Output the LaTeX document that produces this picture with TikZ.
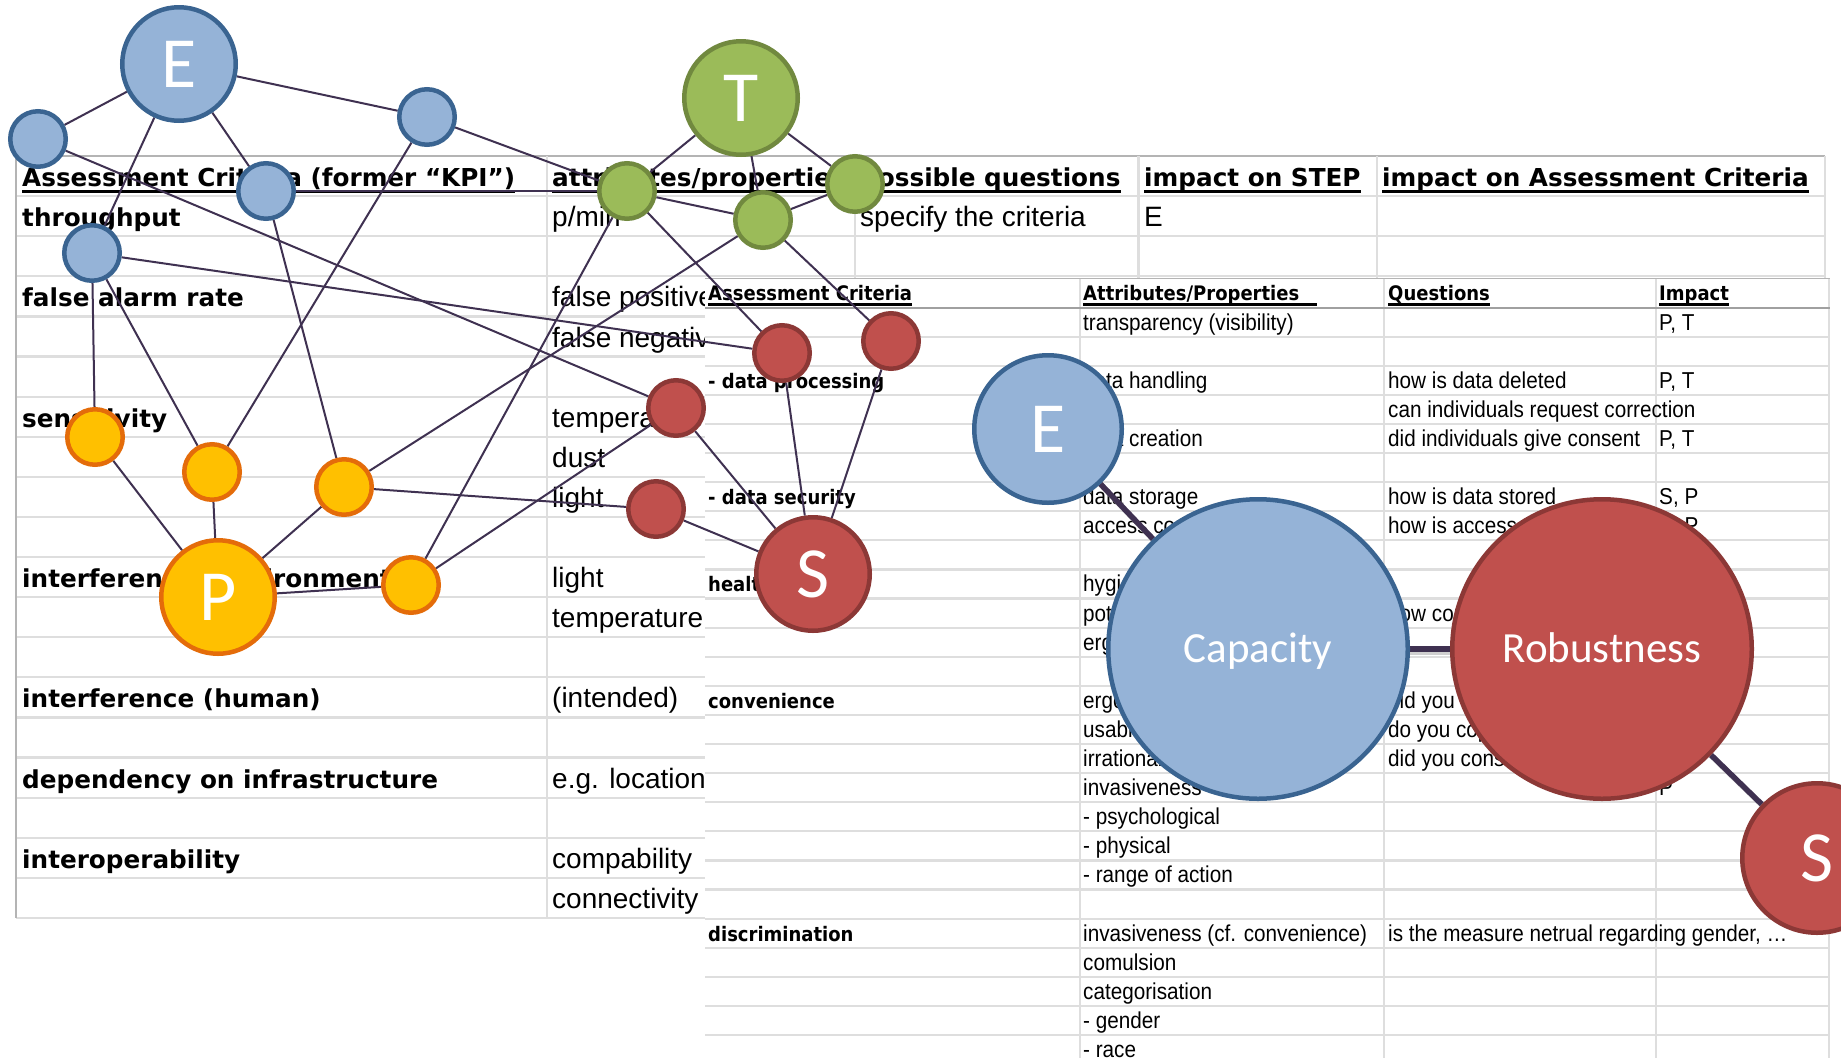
\documentclass[tikz,border=0pt]{standalone}
\usepackage{fontspec}
\newfontfamily\verd{DejaVu Sans}
\newfontfamily\verdn[FakeStretch=0.9]{DejaVu Sans}
\newfontfamily\arl{Liberation Sans}
\newfontfamily\arln[FakeStretch=0.9]{Liberation Sans}
\newfontfamily\calf{Carlito}
\usetikzlibrary{calc}
\definecolor{blueF}{HTML}{95B3D7}
\definecolor{blueD}{HTML}{3A6491}
\definecolor{greenF}{HTML}{9BBB59}
\definecolor{greenD}{HTML}{71893F}
\definecolor{redF}{HTML}{C0504D}
\definecolor{redD}{HTML}{8C3836}
\definecolor{yelF}{HTML}{FFC000}
\definecolor{yelD}{HTML}{E46C0A}
\definecolor{edgeC}{HTML}{3F3151}
\definecolor{gridC}{HTML}{DEDEDE}
\definecolor{gridD}{HTML}{B4B4B4}
\definecolor{hdrL}{HTML}{A0A0A0}
\pgfdeclarelayer{tbl}\pgfdeclarelayer{edg}\pgfsetlayers{tbl,edg,main}
\tikzset{
 nd/.style={circle,inner sep=0pt,line width=4.5pt,minimum size=#1},
 blueN/.style={nd=#1,fill=blueF,draw=blueD},
 greenN/.style={nd=#1,fill=greenF,draw=greenD},
 redN/.style={nd=#1,fill=redF,draw=redD},
 yelN/.style={nd=#1,fill=yelF,draw=yelD},
 lbl/.style={text=white,font=\calf\fontsize{72}{80}\selectfont,text height=46pt,text depth=0pt},
 lblM/.style={text=white,font=\calf\fontsize{43}{50}\selectfont,text height=27.7pt,text depth=0pt},
 conn/.style={draw=edgeC,line width=2pt},
 fat/.style={draw=edgeC,line width=5.5pt},
 fatsh/.style={draw=black!30,line width=5.5pt,opacity=0.6},
 lb/.style={anchor=base west,inner sep=0pt,font=\verd\bfseries\fontsize{24.7}{30}\selectfont},
 lr/.style={anchor=base west,inner sep=0pt,font=\arl\fontsize{28}{32}\selectfont},
 rb/.style={anchor=base west,inner sep=0pt,font=\verdn\bfseries\fontsize{20}{24}\selectfont},
 rr/.style={anchor=base west,inner sep=0pt,font=\arln\fontsize{23}{27}\selectfont},
 gl/.style={draw=gridC,line width=2.2pt},
 ulL/.style={draw=black,line width=3.5pt},
 ulR/.style={draw=black,line width=2.5pt},
}
\begin{document}
\begin{tikzpicture}[x=1pt,y=-1pt]
\useasboundingbox (0,0) rectangle (1841,1058);
\begin{pgfonlayer}{tbl}
\fill[white] (0,0) rectangle (1841,1058);
% ---------- left (background) table ----------
\foreach \k in {1,...,19} {\draw[gl] (16,{156+40.1*\k}) -- (1825,{156+40.1*\k});}
\draw[draw=gridD,line width=2pt] (16,156) -- (1825,156);
\draw[draw=gridD,line width=2pt] (16,156) -- (16,918);
\draw[gl] (547,156) -- (547,918);
\draw[gl] (855,156) -- (855,278);
\draw[gl] (1138.5,156) -- (1138.5,278);
\draw[gl] (1377,156) -- (1377,278);
\draw[gl] (1825,156) -- (1825,278);
% headers
\node[lb] (h1) at (22,186.6) {Assessment Criteria (former “KPI”)};
\node[lb] (h2) at (552,186.6) {attributes/properties};
\node[lb] (h3) at (860,186.6) {possible questions};
\node[lb] (h4) at (1144,186.6) {impact on STEP};
\node[lb] (h5) at (1382,186.6) {impact on Assessment Criteria};
\foreach \h in {h1,h2,h3,h4,h5} {\draw[ulL] ($(\h.base west)+(0,5)$) -- ($(\h.base east)+(0,5)$);}
% rows
\node[lb] (l1a) at (22,226.7) {throughput};
\node[lr] (l1b) at (552,226.7) {p/min};
\node[lr] (l1c) at (860,226.7) {specify the criteria};
\node[lr] (l1d) at (1144,226.7) {E};
\node[lb] (l3a) at (22,306.9) {false alarm rate};
\node[lr] (l3b) at (552,306.9) {false positives};
\node[lr] (l4b) at (552,347) {false negatives};
\node[lb] (l6a) at (22,427.2) {sensitivity};
\node[lr] (l6b) at (552,427.2) {temperature};
\node[lr] (l7b) at (552,467.3) {dust};
\node[lr] (l8b) at (552,507.4) {light};
\node[lb] (l10a) at (22,587.6) {interference (environment)};
\node[lr] (l10b) at (552,587.6) {light};
\node[lr] (l11b) at (552,627.7) {temperature};
\node[lb] (l13a) at (22,707.9) {interference (human)};
\node[lr] (l13b) at (552,707.9) {(intended)};
\node[lb] (l15a) at (22,788.1) {dependency on infrastructure};
\node[lr] (l15b) at (552,788.1) {e.g. location};
\node[lb] (l17a) at (22,868.3) {interoperability};
\node[lr] (l17b) at (552,868.3) {compability};
\node[lr] (l18b) at (552,908.4) {connectivity};
% ---------- right (front) table ----------
\fill[white] (705,278) rectangle (1841,1058);
\foreach \k in {1,...,26} {\draw[gl] (705,{307.5+29.1*\k}) -- (1829,{307.5+29.1*\k});}
\draw[draw=gridD,line width=1.5pt] (705,278.5) -- (1830,278.5);
\draw[gl] (1080,278.5) -- (1080,1058);
\draw[gl] (1384,278.5) -- (1384,1058);
\draw[gl] (1656,278.5) -- (1656,1058);
\draw[gl] (1829,278.5) -- (1829,1058);
\draw[draw=hdrL,line width=2pt] (705,307.5) -- (1830,307.5);
\node[rb] (k1) at (708,300.9) {Assessment Criteria};
\node[rb] (k2) at (1083,300.9) {Attributes/Properties};
\node[rb] (k3) at (1388,300.9) {Questions};
\node[rb] (k4) at (1659,300.9) {Impact};
\foreach \h in {k1,k3,k4} {\draw[ulR] ($(\h.base west)+(0,3.4)$) -- ($(\h.base east)+(0,3.4)$);}
\draw[ulR] ($(k2.base west)+(0,3.4)$) -- ($(k2.base east)+(17,3.4)$);
\node[rr] at (1083,330) {transparency (visibility)};
\node[rr] at (1659,330) {P, T};
\node[rb] at (708,388.2) {- data processing};
\node[rr] at (1083,388.2) {data handling};
\node[rr] at (1388,388.2) {how is data deleted};
\node[rr] at (1659,388.2) {P, T};
\node[rr] at (1388,417.3) {can individuals request correction};
\node[rr] at (1083,446.4) {data creation};
\node[rr] at (1388,446.4) {did individuals give consent};
\node[rr] at (1659,446.4) {P, T};
\node[rb] at (708,504.6) {- data security};
\node[rr] at (1083,504.6) {data storage};
\node[rr] at (1388,504.6) {how is data stored};
\node[rr] at (1659,504.6) {S, P};
\node[rr] at (1083,533.7) {access control};
\node[rr] at (1388,533.7) {how is access controlled};
\node[rr] at (1659,533.7) {S, P};
\node[rb] at (708,591.9) {health};
\node[rr] at (1083,591.9) {hygiene};
\node[rr] at (1083,621) {potential harm};
\node[rr] at (1388,621) {how could it harm};
\node[rr] at (1083,650.1) {ergonomics};
\node[rb] at (708,708.3) {convenience};
\node[rr] at (1083,708.3) {ergonomics};
\node[rr] at (1388,708.3) {did you feel at ease};
\node[rr] at (1083,737.4) {usability};
\node[rr] at (1388,737.4) {do you cope with it};
\node[rr] at (1083,766.5) {irrational fears};
\node[rr] at (1388,766.5) {did you consent};
\node[rr] at (1083,795.6) {invasiveness};
\node[rr] at (1659,795.6) {P};
\node[rr] at (1083,824.7) {- psychological};
\node[rr] at (1083,853.8) {- physical};
\node[rr] at (1083,882.9) {- range of action};
\node[rb] at (708,941.1) {discrimination};
\node[rr] at (1083,941.1) {invasiveness (cf. convenience)};
\node[rr] at (1388,941.1) {is the measure netrual regarding gender, …};
\node[rr] at (1083,970.2) {comulsion};
\node[rr] at (1083,999.3) {categorisation};
\node[rr] at (1083,1028.4) {- gender};
\node[rr] at (1083,1057.5) {- race};
\end{pgfonlayer}
% ---------- nodes ----------
\node[blueN=113.5,lbl] (bE) at (179,64) {E};
\node[blueN=55.5] (b1) at (38,139) {};
\node[blueN=55.5] (b2) at (427,117) {};
\node[blueN=55.5] (b3) at (266,191) {};
\node[blueN=55.5] (b4) at (92,253) {};
\node[greenN=113.5,lbl] (gT) at (741,98) {T};
\node[greenN=55.5] (g1) at (627,191) {};
\node[greenN=55.5] (g2) at (763,220) {};
\node[greenN=55.5] (g3) at (855,184) {};
\node[redN=55.5] (r1) at (782,353) {};
\node[redN=55.5] (r2) at (891,341) {};
\node[redN=55.5] (r3) at (676,408) {};
\node[redN=55.5] (r4) at (656,509) {};
\node[redN=113.5,lbl] (rS) at (813,574) {S};
\node[yelN=55.5] (y1) at (95,437) {};
\node[yelN=55.5] (y2) at (212,472) {};
\node[yelN=55.5] (y3) at (344,487) {};
\node[yelN=55.5] (y4) at (411,585) {};
\node[yelN=113.5,lbl] (yP) at (218,597) {P};
\node[blueN=147.5,lbl] (E2) at (1048,429) {E};
\node[blueN=299.5,lblM] (cap) at (1258,649) {Capacity};
\node[redN=299.5,lblM] (rob) at (1602,649) {Robustness};
\node[redN=149.5,lbl] (S2) at (1817,858) {S};
% ---------- connectors ----------
\begin{pgfonlayer}{edg}
\foreach \a/\b in {bE/b1,bE/b2,bE/b4,bE/b3,b1/r3,b2/g1,b2/y2,b3/g1,b3/y3,b4/r1,b4/y1,b4/y2,
  gT/g1,gT/g2,gT/g3,g1/g2,g2/g3,g1/r1,g1/y4,g2/y3,g2/r2,r1/rS,r2/rS,r3/rS,r3/y4,r4/rS,r4/y3,
  y1/yP,y2/yP,y3/yP,yP/y4}
  {\draw[conn] (\a) -- (\b);}
\foreach \a/\b in {E2/cap,cap/rob,rob/S2}
  {\draw[fatsh] ([shift={(2.5,3)}]\a.center) -- ([shift={(2.5,3)}]\b.center);
   \draw[fat] (\a) -- (\b);}
\end{pgfonlayer}
\end{tikzpicture}
\end{document}
